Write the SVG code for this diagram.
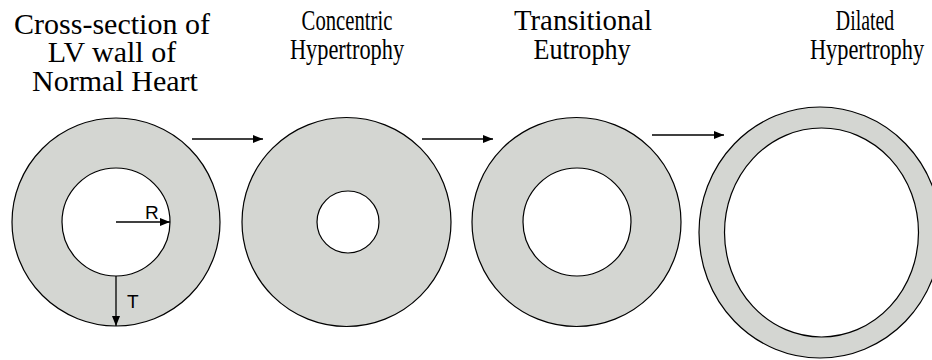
<svg xmlns="http://www.w3.org/2000/svg" width="932" height="360" viewBox="0 0 932 360">
  <defs>
    <marker id="ah" viewBox="0 0 10 8" refX="10" refY="4" markerWidth="10" markerHeight="8" markerUnits="userSpaceOnUse" orient="auto">
      <path d="M0,0 L10,4 L0,8 Z" fill="#000"/>
    </marker>
  </defs>
  <style>
    .wall { fill: #d4d6d2; stroke: #000; stroke-width: 1.2; }
    .lumen { fill: #fff; stroke: #000; stroke-width: 1.2; }
    .title { font-family: "Liberation Serif", "Times New Roman", serif; font-size: 30px; fill: #000; text-anchor: middle; }
    .lbl { font-family: "Liberation Sans", Arial, sans-serif; font-size: 19px; fill: #000; }
    .conn { stroke: #000; stroke-width: 1.3; fill: none; marker-end: url(#ah); }
  </style>
  <rect width="932" height="360" fill="#fff"/>

  <g id="normal">
    <text class="title" x="112" y="34">Cross-section of</text>
    <text class="title" x="112" y="62">LV wall of</text>
    <text class="title" x="115" y="91">Normal Heart</text>
    <circle class="wall" cx="116" cy="222" r="104"/>
    <circle class="lumen" cx="116" cy="222" r="54"/>
    <text class="lbl" x="145" y="219">R</text>
    <text class="lbl" x="127" y="308">T</text>
  </g>

  <g id="concentric">
    <text class="title" transform="translate(347,30) scale(0.69,1)">Concentric</text>
    <text class="title" transform="translate(347,59) scale(0.745,1)">Hypertrophy</text>
    <circle class="wall" cx="346.5" cy="222" r="104.5"/>
    <circle class="lumen" cx="348" cy="222" r="31"/>
  </g>

  <g id="transitional">
    <text class="title" transform="translate(583,30) scale(0.96,1)">Transitional</text>
    <text class="title" transform="translate(582,59) scale(0.87,1)">Eutrophy</text>
    <circle class="wall" cx="576.5" cy="222" r="104.5"/>
    <circle class="lumen" cx="577" cy="222" r="54"/>
  </g>

  <g id="dilated">
    <text class="title" transform="translate(865,30) scale(0.66,1)">Dilated</text>
    <text class="title" transform="translate(867,59) scale(0.745,1)">Hypertrophy</text>
    <ellipse class="wall" cx="820" cy="232.5" rx="121" ry="125.5"/>
    <ellipse class="lumen" cx="821.5" cy="232.5" rx="97" ry="104.5"/>
  </g>

  <g id="connectors">
    <line class="conn" x1="192" y1="139" x2="263" y2="139"/>
    <line class="conn" x1="422" y1="139" x2="493" y2="139"/>
    <line class="conn" x1="652" y1="135" x2="724" y2="135"/>
    <line class="conn" x1="116" y1="222" x2="170" y2="222"/>
    <line class="conn" x1="116" y1="276" x2="116" y2="326"/>
  </g>
</svg>
